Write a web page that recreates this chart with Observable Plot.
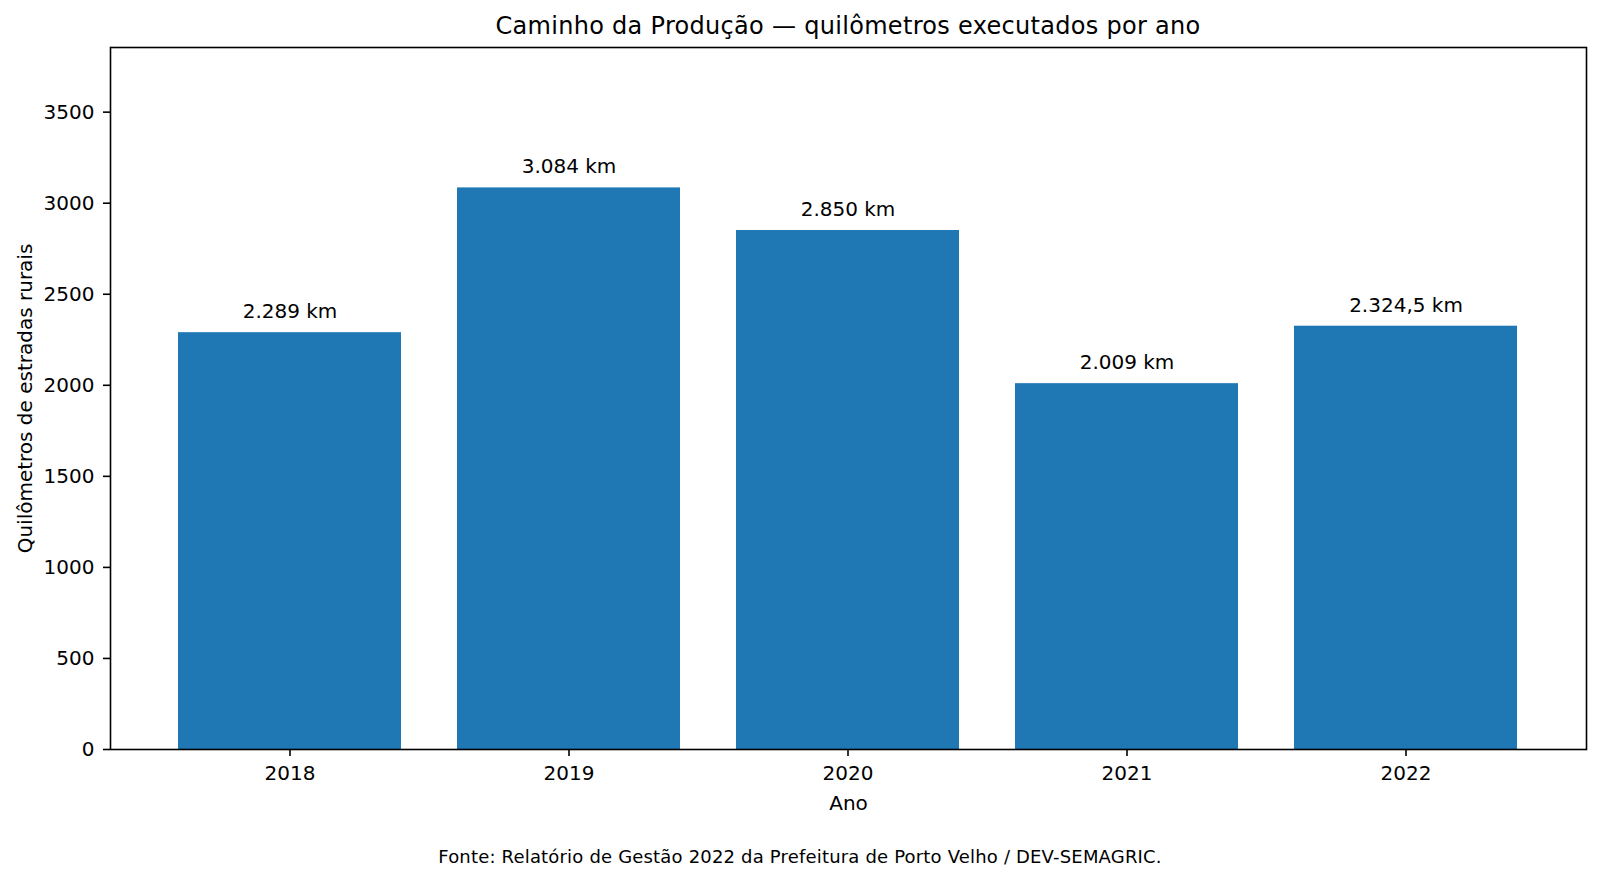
<!DOCTYPE html>
<html>
<head>
<meta charset="utf-8">
<script src="https://cdn.jsdelivr.net/npm/d3@7"></script>
<script src="https://cdn.jsdelivr.net/npm/@observablehq/plot@0.6"></script>
<style>
  html, body { margin: 0; padding: 0; background: #fff; }
  body { width: 1600px; height: 881px; overflow: hidden; font-family: "DejaVu Sans", sans-serif; color: #000; }
  #title { height: 40px; box-sizing: border-box; padding-top: 12px; padding-left: 96px; line-height: 28px; font-size: 24px; letter-spacing: 0.3px; text-align: center; white-space: nowrap; }
  #caption { height: 61px; box-sizing: border-box; padding-top: 25.5px; line-height: 22px; font-size: 18px; letter-spacing: 0.18px; text-align: center; white-space: nowrap; }
  #chart svg { display: block; }
</style>
</head>
<body>
<div id="title">Caminho da Produção — quilômetros executados por ano</div>
<div id="chart"></div>
<div id="caption">Fonte: Relatório de Gestão 2022 da Prefeitura de Porto Velho / DEV-SEMAGRIC.</div>
<script>
const years = ["2018", "2019", "2020", "2021", "2022"];
const km = [2289, 3084, 2850, 2009, 2324.5];
const barLabels = ["2.289 km", "3.084 km", "2.850 km", "2.009 km", "2.324,5 km"];
const yTicks = [0, 500, 1000, 1500, 2000, 2500, 3000, 3500];
const xLabel = "Ano";
const yLabel = "Quilômetros de estradas rurais";

const data = years.map((y, i) => ({year: y, value: km[i], label: barLabels[i]}));
const yMax = d3.max(km) * 1.25;

const chart = Plot.plot({
  width: 1600,
  height: 780,
  marginTop: 7,
  marginBottom: 71,
  marginLeft: 110,
  marginRight: 14,
  style: {fontFamily: "DejaVu Sans, sans-serif", fontSize: "20px", color: "#000", background: "#fff"},
  x: {domain: years, paddingInner: 0.2, paddingOuter: 0.24, label: null},
  y: {domain: [0, yMax], label: null},
  marks: [
    Plot.barY(data, {x: "year", y: "value", fill: "#1f77b4"}),
    Plot.text(data, {x: "year", y: "value", text: "label", dy: -21, lineAnchor: "middle", fill: "#000", fontSize: 20, style: "letter-spacing: 0.2px"}),
    Plot.axisX({tickSize: 7, tickPadding: 9, strokeWidth: 1.6, fontSize: 20, label: null}),
    Plot.axisY({ticks: yTicks, tickFormat: d3.format("d"), tickSize: 7, tickPadding: 9, strokeWidth: 1.6, fontSize: 20, label: null}),
    Plot.text([xLabel], {frameAnchor: "bottom", dy: 54, lineAnchor: "middle", fontSize: 20, fill: "#000"}),
    Plot.text([yLabel], {frameAnchor: "left", textAnchor: "middle", dx: -85, rotate: -90, lineAnchor: "middle", fontSize: 20, fill: "#000"}),
    Plot.frame({stroke: "#000", strokeWidth: 1.6})
  ]
});
document.getElementById("chart").appendChild(chart);
</script>
</body>
</html>
